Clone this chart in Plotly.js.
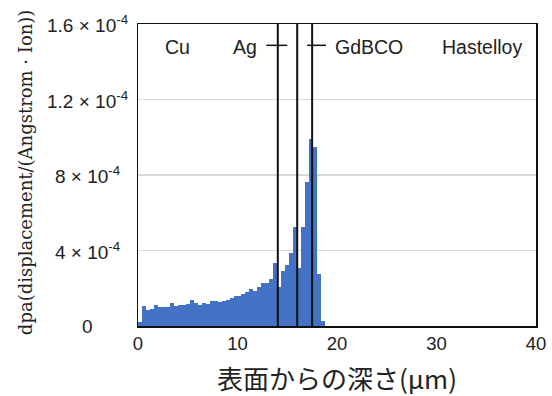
<!DOCTYPE html>
<html>
<head>
<meta charset="utf-8">
<script src="https://cdn.plot.ly/plotly-3.0.1.min.js"></script>
<style>html,body{margin:0;padding:0;background:#fff;}#chart{width:552px;height:396px;}</style>
</head>
<body>
<div id="chart"></div>
<script>
// depth bin centres (µm)
const depth = [0.2,0.6,1.0,1.4,1.8,2.2,2.6,3.0,3.4,3.8,4.2,4.6,5.0,5.4,5.8,6.2,6.6,7.0,7.4,7.8,
  8.2,8.6,9.0,9.4,9.8,10.2,10.6,11.0,11.4,11.8,12.2,12.6,13.0,13.4,13.8,14.2,14.6,15.0,15.4,15.8,
  16.2,16.6,17.0,17.4,17.8,18.2,18.6];
// dpa values in units of 1e-4
const dpa = [0.023,0.106,0.085,0.090,0.111,0.099,0.100,0.099,0.122,0.108,0.110,0.111,0.115,0.138,0.124,0.113,0.120,0.117,0.134,0.133,
  0.127,0.134,0.138,0.147,0.159,0.159,0.170,0.182,0.194,0.187,0.205,0.226,0.230,0.247,0.332,0.208,0.293,0.323,0.388,0.526,
  0.306,0.526,0.765,0.989,0.947,0.274,0.026];
const yTickVals = [0, 0.4, 0.8, 1.2, 1.6];
const yTickText = ['0', '4 × 10<sup>-4</sup>', '8 × 10<sup>-4</sup>', '1.2 × 10<sup>-4</sup>', '1.6 × 10<sup>-4</sup>'];
const xTickVals = [0, 10, 20, 30, 40];
// layer boundaries (µm) and labels
const boundaries = [14.05, 16.0, 17.5];
const layerNames = ['Cu', 'Ag', 'GdBCO', 'Hastelloy'];
const layerLabelX = [4.0, 10.8, 23.2, 34.6];
const markerSegs = [[12.9, 15.0], [17.0, 18.9]];
const labelY = 1.48;

const shapes = [];
boundaries.forEach(b => shapes.push({type:'line', xref:'x', yref:'paper', x0:b, x1:b, y0:0, y1:1, line:{color:'#111', width:2}}));
markerSegs.forEach(s => shapes.push({type:'line', xref:'x', yref:'y', x0:s[0], x1:s[1], y0:1.487, y1:1.487, line:{color:'#111', width:1.5}}));

const annotations = [];
layerNames.forEach((n,i) => annotations.push({x:layerLabelX[i], y:labelY, xref:'x', yref:'y', text:n, showarrow:false,
  font:{family:'Liberation Sans, Arial, sans-serif', size:19.5, color:'#222'}, xanchor:'center', yanchor:'middle'}));
yTickVals.forEach((v,i) => annotations.push({x:-0.126, y:v, xref:'paper', yref:'y', text:yTickText[i], showarrow:false,
  font:{family:'Liberation Sans, Arial, sans-serif', size:19, color:'#222'}, xanchor:'center', yanchor:'middle'}));
annotations.push({x:-0.281, y:0.51, xref:'paper', yref:'paper', text:'dpa(displacement/(Angstrom · Ion))', showarrow:false,
  textangle:-90, font:{family:'DejaVu Serif, serif', size:18, color:'#222'}, xanchor:'center', yanchor:'middle'});

const trace = {type:'bar', x:depth, y:dpa, marker:{color:'#4472c4', line:{width:0}}, hoverinfo:'skip'};

const layout = {
  width:552, height:396,
  margin:{l:138, r:16, t:24, b:70},
  paper_bgcolor:'#fff', plot_bgcolor:'#fff',
  bargap:0, showlegend:false,
  xaxis:{range:[0,40], tickvals:xTickVals, ticks:'', showgrid:false, zeroline:false,
    showline:true, mirror:true, linecolor:'#111', linewidth:1.5,
    tickfont:{family:'Liberation Sans, Arial, sans-serif', size:18.5, color:'#222'},
    title:{text:'表面からの深さ(µm)', font:{family:'Noto Sans CJK JP, sans-serif', size:26, color:'#222'}, standoff:21}},
  yaxis:{range:[0,1.6], tickvals:yTickVals, showticklabels:false, ticks:'', showgrid:true, gridcolor:'#d9d9d9', gridwidth:1.5,
    zeroline:false, showline:true, mirror:true, linecolor:'#111', linewidth:1.5},
  shapes:shapes, annotations:annotations
};
Plotly.newPlot('chart', [trace], layout, {staticPlot:true, displayModeBar:false});
</script>
</body>
</html>
